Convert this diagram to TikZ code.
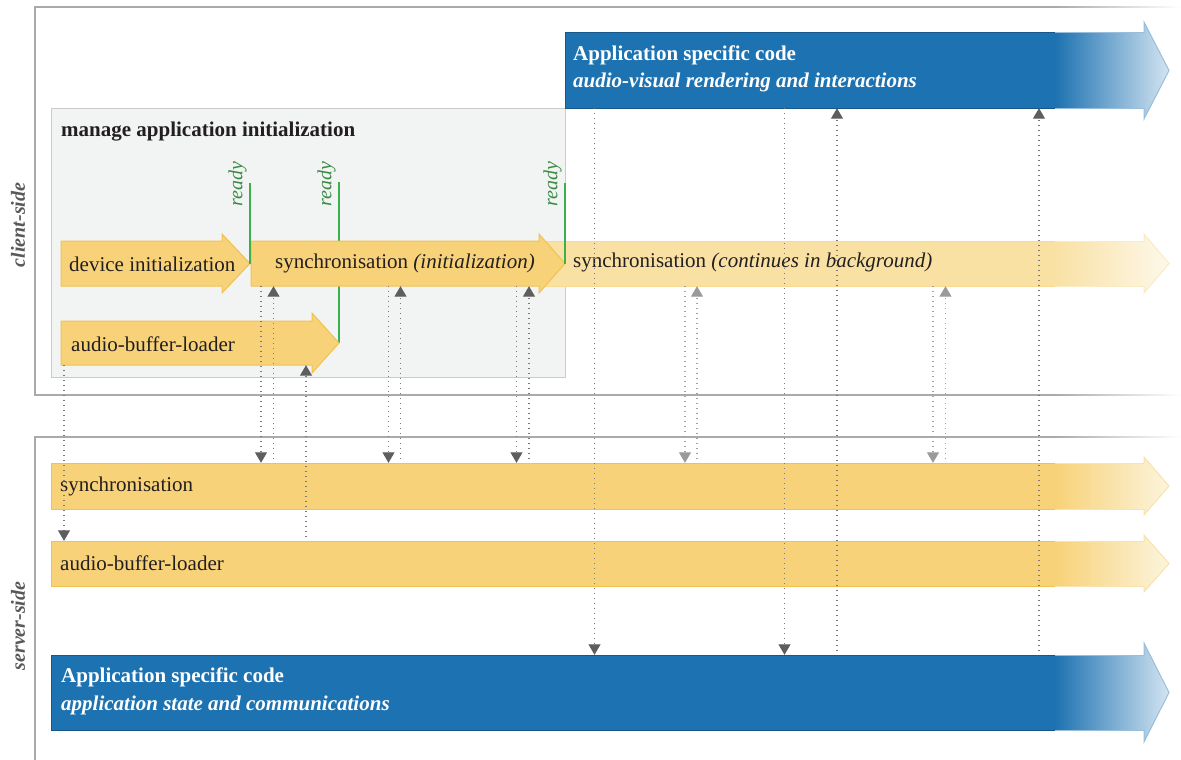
\documentclass[tikz,border=0pt]{standalone}
\usepackage{fontspec}
\setmainfont{Liberation Serif}
\usetikzlibrary{arrows.meta,fit}
\definecolor{frame}{HTML}{AAAAAA}
\definecolor{boxfill}{HTML}{F2F4F3}
\definecolor{boxdraw}{HTML}{CBCBCB}
\definecolor{yfill}{HTML}{F7D278}
\definecolor{ydraw}{HTML}{F1C24F}
\definecolor{yend}{HTML}{FCF4DC}
\definecolor{yhead}{HTML}{F8E3AC}
\definecolor{lfill}{HTML}{F9E1A4}
\definecolor{ldraw}{HTML}{F7DA90}
\definecolor{lend}{HTML}{FDF8EA}
\definecolor{lhead}{HTML}{FAEBC4}
\definecolor{bfill}{HTML}{1D72B1}
\definecolor{bdraw}{HTML}{17578A}
\definecolor{bend}{HTML}{D3E4F1}
\definecolor{bhead}{HTML}{98BEDB}
\definecolor{grline}{HTML}{3DB04B}
\definecolor{grtext}{HTML}{3A8A44}
\definecolor{sidetext}{HTML}{595959}
\definecolor{txtc}{HTML}{231F20}
\definecolor{dotc}{HTML}{7A7A7A}
\definecolor{tipc}{HTML}{5E5E5E}
\definecolor{dotl}{HTML}{A0A0A0}
\definecolor{tipl}{HTML}{9A9A9A}

\newcommand\plainbar[8]{%
  \node[fit={(#2,#3) (#5,#4)}, inner sep=0pt] (#1) {};
  \draw[#8] (#2,#3) -- (#5,#3) -- (#5,{#3-#7}) -- (#6,{(#3+#4)/2}) -- (#5,{#4+#7}) -- (#5,#4) -- (#2,#4) -- cycle;
}
\newcommand\fadebar[9]{%
  \node[fit={(#2,#3) (1144,#4)}, inner sep=0pt] (#1) {};
  \fill[#6] (#2,#3) rectangle (1056,#4);
  \begin{scope}
    \clip (1055,#3) -- (1144,#3) -- (1144,{#3-#5}) -- (1169,{(#3+#4)/2}) -- (1144,{#4+#5}) -- (1144,#4) -- (1055,#4) -- cycle;
    \shade[left color=#6, right color=#7] (1055,{#3-#5}) rectangle (1169,{#4+#5});
  \end{scope}
  \draw[#9, line width=1pt, line join=miter] (1144,#3) -- (1144,{#3-#5}) -- (1169,{(#3+#4)/2}) -- (1144,{#4+#5}) -- (1144,#4);
  \draw[#9, line width=1pt] (1055,#3) -- (1144,#3) (1055,#4) -- (1144,#4);
  \draw[#8, line width=1pt] (1055,#3) -- (#2,#3) -- (#2,#4) -- (1055,#4);
}

\begin{document}
\begin{tikzpicture}[x=1pt,y=-1pt,
  txt/.style={font=\fontsize{21}{25}\selectfont, text=txtc, inner sep=0pt, anchor=west},
  wtxt/.style={font=\fontsize{21}{25}\selectfont\bfseries, text=white, inner sep=0pt, anchor=west},
  ready/.style={font=\fontsize{20}{24}\selectfont\itshape, text=grtext, rotate=90, anchor=south, inner sep=1pt},
  side/.style={font=\fontsize{20}{24}\selectfont\bfseries\itshape, text=sidetext, rotate=90, inner sep=0pt},
  ybar/.style={fill=yfill, draw=ydraw, line width=1pt},
  gline/.style={draw=grline, line width=2pt},
  frm/.style={draw=frame, line width=1.5pt},
  dn/.style={draw=dotc, line width=1.1pt, dash pattern=on 1.1pt off 3.9pt, -{Triangle[width=12pt,length=10.5pt,color=tipc]}},
  upa/.style={dn, shorten <=4pt},
  dnl/.style={draw=dotl, line width=1.1pt, dash pattern=on 1.1pt off 3.9pt, -{Triangle[width=12pt,length=10.5pt,color=tipl]}},
  upl/.style={dnl, shorten <=4pt}]
\useasboundingbox (0,0) rectangle (1181,760);

% frames
\draw[frm] (1056,7) -- (35,7) -- (35,395) -- (1056,395);
\draw[frm] (1056,437) -- (35,437) -- (35,760);
\shade[left color=frame, right color=white] (1055,6.25) rectangle (1181,7.75);
\shade[left color=frame, right color=white] (1055,394.25) rectangle (1181,395.75);
\shade[left color=frame, right color=white] (1055,436.25) rectangle (1181,437.75);
\node[side] (cside) at (18,225) {client-side};
\node[side] (sside) at (18,626) {server-side};

% init box
\node[fit={(51,108) (565,377)}, inner sep=0pt, fill=boxfill, draw=boxdraw, line width=1pt] (initbox) {};
\node[txt, font=\fontsize{21}{25}\selectfont\bfseries] (inittitle) at (61,132) {manage application initialization};

% ready line behind sync init
\draw[gline] (339,182) -- (339,343);

% background sync (light)
\fadebar{syncbg}{545}{241}{286}{7}{lfill}{lend}{ldraw}{lhead}

% client bars
\plainbar{dev}{61}{241}{286}{222}{250}{7}{ybar}
\plainbar{syncinit}{251}{241}{286}{539}{565}{7}{ybar}
\plainbar{cabl}{61}{321}{365}{312}{339}{8}{ybar}

\draw[gline] (250,183) -- (250,264);
\draw[gline] (565,183) -- (565,264);
\node[ready] (r1) at (248,184) {ready};
\node[ready] (r2) at (337,184) {ready};
\node[ready] (r3) at (563,184) {ready};

\node[txt] (devt) at (69,264) {device initialization};
\node[txt] (syncit) at (275,263) {synchronisation \textit{(initialization)}};
\node[txt] (syncbgt) at (573,262) {synchronisation \textit{(continues in background)}};
\node[txt] (cablt) at (71,344) {audio-buffer-loader};

% client blue
\fadebar{cblue}{565}{33}{108}{11}{bfill}{bend}{bdraw}{bhead}
\node[wtxt] (cb1) at (573,55) {Application specific code};
\node[wtxt] (cb2) at (573,82) {\itshape audio-visual rendering and interactions};

% server bars
\fadebar{ssync}{51}{463}{509}{6}{yfill}{yend}{ydraw}{yhead}
\fadebar{sabl}{51}{541}{586}{6}{yfill}{yend}{ydraw}{yhead}
\fadebar{sblue}{51}{655}{730}{12}{bfill}{bend}{bdraw}{bhead}
\node[txt] (ssynct) at (60,486) {synchronisation};
\node[txt] (sablt) at (60,563) {audio-buffer-loader};
\node[wtxt] (sb1) at (61,677) {Application specific code};
\node[wtxt] (sb2) at (61,705) {\itshape application state and communications};

% connector columns
\foreach \n/\x in {a/64,b/261,c/273.5,d/306,e/388.5,f/400.5,g/516.5,h/529,i/594.5,j/685,k/697,l/784.5,m/837,n/933,o/945.5,p/1039}
  \coordinate (col\n) at (\x,0);

\draw[dn] (cabl.south -| cola) -- (sabl.north -| cola);
\draw[dn] (syncinit.south -| colb) -- (ssync.north -| colb);
\draw[upa] (ssync.north -| colc) -- (syncinit.south -| colc);
\draw[upa] (sabl.north -| cold) -- (cabl.south -| cold);
\draw[dn] (syncinit.south -| cole) -- (ssync.north -| cole);
\draw[upa] (ssync.north -| colf) -- (syncinit.south -| colf);
\draw[dn] (syncinit.south -| colg) -- (ssync.north -| colg);
\draw[upa] (ssync.north -| colh) -- (syncinit.south -| colh);
\draw[dn] (cblue.south -| coli) -- (sblue.north -| coli);
\draw[dnl] (syncbg.south -| colj) -- (ssync.north -| colj);
\draw[upl] (ssync.north -| colk) -- (syncbg.south -| colk);
\draw[dn] (cblue.south -| coll) -- (sblue.north -| coll);
\draw[upa] (sblue.north -| colm) -- (cblue.south -| colm);
\draw[dnl] (syncbg.south -| coln) -- (ssync.north -| coln);
\draw[upl] (ssync.north -| colo) -- (syncbg.south -| colo);
\draw[upa] (sblue.north -| colp) -- (cblue.south -| colp);
\end{tikzpicture}
\end{document}
